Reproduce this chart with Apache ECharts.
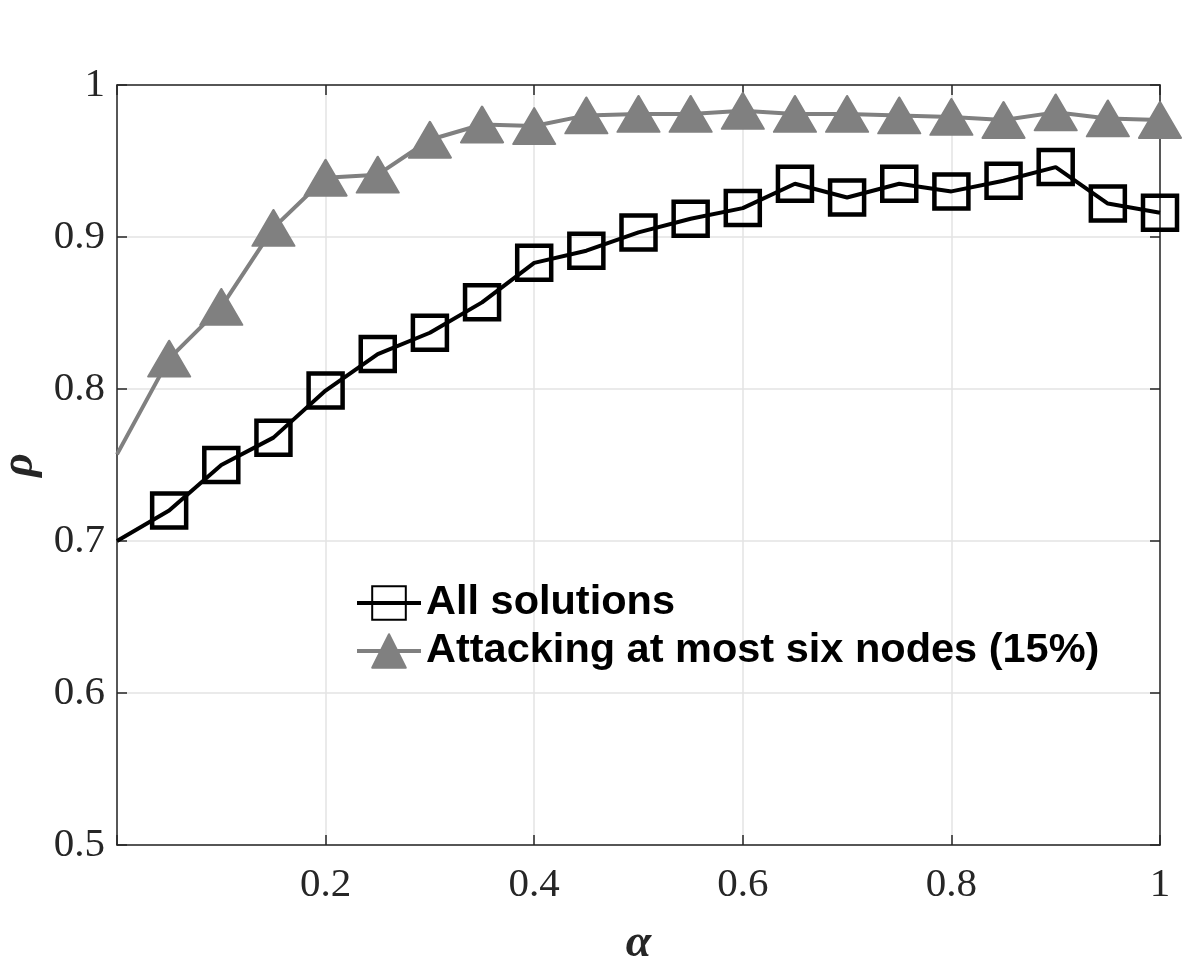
<!DOCTYPE html>
<html><head><meta charset="utf-8">
<script src="https://cdn.jsdelivr.net/npm/echarts@6/dist/echarts.min.js"></script>
<style>html,body{margin:0;padding:0;background:#fff}#c{width:1186px;height:960px}</style>
</head><body><div id="c"></div>
<script>
const alphas = [0, 0.05, 0.10, 0.15, 0.20, 0.25, 0.30, 0.35, 0.40, 0.45, 0.50, 0.55, 0.60, 0.65, 0.70, 0.75, 0.80, 0.85, 0.90, 0.95, 1.00];
const allSolutions = [0.700, 0.720, 0.750, 0.768, 0.799, 0.823, 0.837, 0.857, 0.883, 0.891, 0.903, 0.912, 0.919, 0.935, 0.926, 0.935, 0.930, 0.937, 0.946, 0.922, 0.916];
const attacking = [0.757, 0.820, 0.854, 0.906, 0.939, 0.941, 0.964, 0.974, 0.973, 0.980, 0.981, 0.981, 0.983, 0.981, 0.981, 0.980, 0.979, 0.977, 0.982, 0.978, 0.977];
const seriesNames = ['All solutions', 'Attacking at most six nodes (15%)'];
const xTicks = [0.2, 0.4, 0.6, 0.8, 1];
const yTicks = [0.5, 0.6, 0.7, 0.8, 0.9, 1];

function mk(vals){
  return alphas.map((a,i)=> i===0 ? {value:[a, vals[i]], symbol:'none'} : {value:[a, vals[i]]});
}
const axisCol = '#262626';
const tickFont = {fontFamily:'Liberation Serif', fontSize:41, color:'#262626'};
const chart = echarts.init(document.getElementById('c'), null, {renderer:'canvas'});
chart.setOption({
  animation:false,
  backgroundColor:'#fff',
  grid:{left:117, right:26, top:85, bottom:115, containLabel:false, outerBoundsMode:'none'},
  legend:{
    left:350, top:577, orient:'vertical', itemWidth:64, itemHeight:42, itemGap:6,
    lineStyle:{width:4},
    textStyle:{fontFamily:'Liberation Sans', fontWeight:'bold', fontSize:41.5, color:'#000'},
    data:seriesNames
  },
  xAxis:[{
    type:'value', min:0, max:1, interval:0.2,
    name:'α', nameLocation:'middle', nameGap:76,
    nameTextStyle:{fontFamily:'Liberation Serif', fontStyle:'italic', fontWeight:'bold', fontSize:46, color:'#262626'},
    axisLine:{show:true, onZero:false, lineStyle:{color:axisCol, width:1.5}},
    axisTick:{show:true, inside:true, length:10, lineStyle:{color:axisCol, width:1.5}},
    axisLabel:{...tickFont, margin:20, formatter:v=> xTicks.some(t=>Math.abs(t-v)<1e-9) ? String(+v.toFixed(1)) : ''},
    splitLine:{show:true, lineStyle:{color:'#e3e3e3', width:1.5}}
  },{
    type:'value', min:0, max:1, interval:0.2, position:'top',
    axisLine:{show:true, onZero:false, lineStyle:{color:axisCol, width:1.5}},
    axisTick:{show:true, inside:true, length:10, lineStyle:{color:axisCol, width:1.5}},
    axisLabel:{show:false}, splitLine:{show:false}
  }],
  yAxis:[{
    type:'value', min:0.5, max:1, interval:0.1,
    name:'ρ', nameLocation:'middle', nameGap:66, nameRotate:90,
    nameTextStyle:{fontFamily:'Liberation Serif', fontStyle:'italic', fontWeight:'bold', fontSize:46, color:'#262626'},
    axisLine:{show:true, onZero:false, lineStyle:{color:axisCol, width:1.5}},
    axisTick:{show:true, inside:true, length:10, lineStyle:{color:axisCol, width:1.5}},
    axisLabel:{...tickFont, margin:12, formatter:v=> yTicks.some(t=>Math.abs(t-v)<1e-9) ? String(+v.toFixed(1)) : ''},
    splitLine:{show:true, lineStyle:{color:'#e3e3e3', width:1.5}}
  },{
    type:'value', min:0.5, max:1, interval:0.1, position:'right',
    axisLine:{show:true, onZero:false, lineStyle:{color:axisCol, width:1.5}},
    axisTick:{show:true, inside:true, length:10, lineStyle:{color:axisCol, width:1.5}},
    axisLabel:{show:false}, splitLine:{show:false}
  }],
  series:[{
    name:seriesNames[0], type:'line', data:mk(allSolutions),
    symbol:'rect', symbolSize:34, showAllSymbol:true, z:3,
    lineStyle:{color:'#000', width:4},
    itemStyle:{color:'rgba(0,0,0,0)', borderColor:'#000', borderWidth:4.5}
  },{
    name:seriesNames[1], type:'line', data:mk(attacking),
    symbol:'triangle', symbolSize:[42,36], showAllSymbol:true, z:2,
    lineStyle:{color:'#808080', width:4},
    itemStyle:{color:'#808080', borderColor:'#808080', borderWidth:2, borderJoin:'round'}
  }]
});
</script></body></html>
